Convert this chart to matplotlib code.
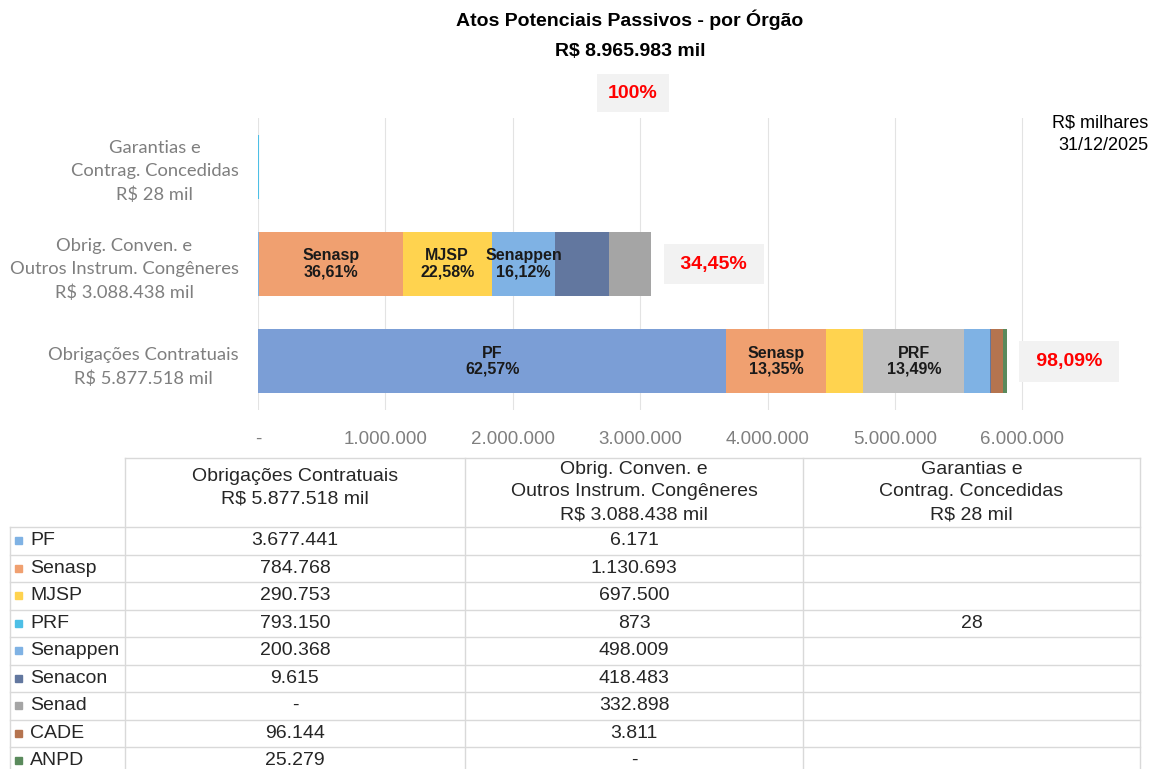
import matplotlib
matplotlib.use("Agg")
import matplotlib.pyplot as plt
from matplotlib.patches import Rectangle

# dados (R$ mil)
orgaos = ['PF', 'Senasp', 'MJSP', 'PRF', 'Senappen', 'Senacon', 'Senad', 'CADE', 'ANPD']
obrig_contratuais = [3677441, 784768, 290753, 793150, 200368, 9615, 0, 96144, 25279]
obrig_conven = [6171, 1130693, 697500, 873, 498009, 418483, 332898, 3811, 0]
garantias = [0, 0, 0, 28, 0, 0, 0, 0, 0]

categorias = ['Obrigações Contratuais\nR$ 5.877.518 mil',
              'Obrig. Conven. e\nOutros Instrum. Congêneres\nR$ 3.088.438 mil',
              'Garantias e\nContrag. Concedidas\nR$ 28 mil']
cabecalhos = ['Obrigações Contratuais\nR$ 5.877.518 mil',
              'Obrig. Conven. e\nOutros Instrum. Congêneres\nR$ 3.088.438 mil',
              'Garantias e\nContrag. Concedidas\nR$ 28 mil']
pct_rotulos = ['98,09%', '34,45%', '100%']
# segmentos com rótulo dentro da barra
rotulados = [['PF', 'Senasp', 'PRF'], ['Senasp', 'MJSP', 'Senappen'], []]
xticks = [0, 1000000, 2000000, 3000000, 4000000, 5000000, 6000000]

cores_legenda = {'PF': '#7FB2E4', 'Senasp': '#F0A070', 'MJSP': '#FFD34F', 'PRF': '#4DBFE6',
                 'Senappen': '#7FB2E4', 'Senacon': '#62779F', 'Senad': '#A5A5A5',
                 'CADE': '#B5744F', 'ANPD': '#5A8A5C'}
cores_barra = [dict(cores_legenda, PF='#7B9ED6', PRF='#BFBFBF'),
               dict(cores_legenda),
               dict(cores_legenda)]

series = [obrig_contratuais, obrig_conven, garantias]

W, H = 1151, 769
fig = plt.figure(figsize=(W / 100, H / 100), dpi=100)
fonte = 'Liberation Sans'


def fmt(v):
    return f"{v:,}".replace(',', '.')


# ---- gráfico de barras ----
ax = fig.add_axes([258 / W, 1 - 410 / H, 828 / W, 292 / H])
ax.patch.set_alpha(0)
for i, vals in enumerate(series):
    esq = 0
    total = sum(vals)
    for org, v in zip(orgaos, vals):
        if v == 0:
            continue
        c = cores_barra[i][org]
        lw = 1.5 if i == 2 else 0
        ax.barh(i, v, left=esq, height=0.66, color=c, edgecolor=c, linewidth=lw, zorder=3)
        if org in rotulados[i]:
            pct = f"{v / total * 100:.2f}".replace('.', ',') + '%'
            ax.text(esq + v / 2, i, f"{org}\n{pct}", ha='center', va='center',
                    fontsize=11.5, fontweight='bold', color='#1A1A1A',
                    family=fonte, zorder=4, linespacing=1.1)
        esq += v
    if i < 2:
        ax.annotate(' ' + pct_rotulos[i] + ' ', xy=(total, i), xytext=(24, 0),
                    textcoords='offset pixels',
                    ha='left', va='center', fontsize=14, fontweight='bold', color='#FF0000',
                    family=fonte,
                    bbox=dict(boxstyle='square,pad=0.6', fc='#F2F2F2', ec='none'))

ax.set_xlim(0, 6500000)
ax.set_ylim(-0.5, 2.5)
ax.tick_params(axis='y', length=0, pad=14, labelsize=13.2, labelcolor='#7F7F7F')
ax.tick_params(axis='x', length=0, pad=15, labelsize=13.5, labelcolor='#7F7F7F')
ax.set_xticks(xticks)
ax.set_xticklabels(['-' if t == 0 else fmt(t) for t in xticks], family=fonte)
ax.set_yticks(range(3))
ax.set_yticklabels(categorias, multialignment='center', linespacing=1.55, family='Lato')
ax.grid(axis='x', color='#E3E3E3', linewidth=0.8, zorder=0)
for s in ax.spines.values():
    s.set_visible(False)

# ---- textos e tabela (coordenadas em pixels) ----
ov = fig.add_axes([0, 0, 1, 1], zorder=-1)
ov.set_xlim(0, W)
ov.set_ylim(H, 0)
ov.axis('off')

ov.text(630, 20, 'Atos Potenciais Passivos - por Órgão', ha='center', va='center',
        fontsize=14, fontweight='bold', family=fonte)
ov.text(630, 52, 'R$ 8.965.983 mil', ha='center', va='center',
        fontsize=14, fontweight='bold', family=fonte)
ov.text(633, 93, pct_rotulos[2], ha='center', va='center', fontsize=14, fontweight='bold',
        color='#FF0000', family=fonte,
        bbox=dict(boxstyle='square,pad=0.55', fc='#F2F2F2', ec='none'))
ov.text(1148, 134, 'R\\$ milhares\n31/12/2025', ha='right', va='center', fontsize=13,
        family=fonte, multialignment='right', linespacing=1.4)

col_x = [10, 125, 465, 803, 1140]
topo, base_cab, alt = 458, 527, 27.5
lc = '#D9D9D9'
ov.plot([col_x[1], col_x[-1]], [topo, topo], color=lc, lw=1)
for x in col_x[1:]:
    ov.plot([x, x], [topo, H], color=lc, lw=1)
ov.plot([col_x[0], col_x[0]], [base_cab, H], color=lc, lw=1)
for k in range(len(orgaos)):
    y = base_cab + k * alt
    ov.plot([col_x[0], col_x[-1]], [y, y], color=lc, lw=1)

cab_y = [488, 492, 492]
for j, cab in enumerate(cabecalhos):
    ov.text((col_x[j + 1] + col_x[j + 2]) / 2, cab_y[j], cab, ha='center',
            va='center', fontsize=14, family=fonte, color='#262626', linespacing=1.45)

for k, org in enumerate(orgaos):
    yc = base_cab + k * alt + alt / 2
    ov.add_patch(Rectangle((15, yc - 3.5), 7, 7, color=cores_legenda[org]))
    ov.text(30, yc, org, ha='left', va='center', fontsize=14, family=fonte, color='#262626')
    for j, vals in enumerate(series):
        v = vals[k]
        if v == 0:
            txt = '' if j == 2 else '-'
        else:
            txt = fmt(v)
        ov.text((col_x[j + 1] + col_x[j + 2]) / 2, yc, txt, ha='center', va='center',
                fontsize=14, family=fonte, color='#262626')

fig.savefig('out.png', dpi=100)
